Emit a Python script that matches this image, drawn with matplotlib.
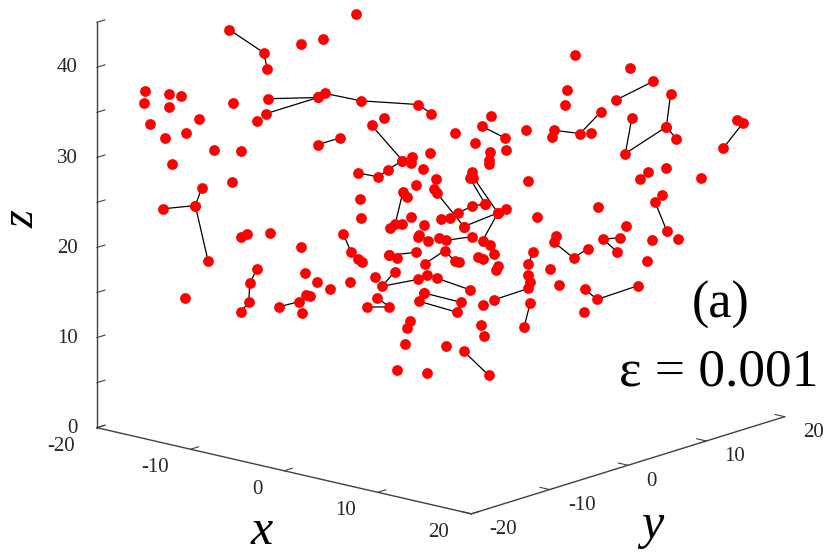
import matplotlib
matplotlib.use("Agg")
import matplotlib.pyplot as plt
from mpl_toolkits.mplot3d import proj3d

plt.rcParams['font.family'] = ['Liberation Serif', 'DejaVu Serif']
plt.rcParams['axes.unicode_minus'] = False

# one view only, so depth along the line of sight can't be read: points sit on x = y
# linked pairs / chains of particles, (x, z)
chains = [
    ([-12.30, -10.30, -10.09], [43.94, 41.33, 39.46]),
    ([-10.05, -7.14], [36.21, 36.26]),
    ([-10.18, -7.14], [34.55, 36.26]),
    ([-6.75, -4.62, -1.32, -0.56], [36.70, 35.81, 35.30, 34.28]),
    ([-4.03, -2.23], [33.09, 29.11]),
    ([-5.84, -7.14], [31.74, 31.04]),
    ([-4.82, -3.64, -3.08, -2.23, -1.65], [27.82, 27.34, 28.11, 29.11, 29.54]),
    ([-13.90, -14.28, -13.54], [26.44, 24.48, 18.35]),
    ([-16.16, -14.28], [24.18, 24.48]),
    ([-10.69, -11.11, -11.17, -11.63], [17.34, 15.80, 13.65, 12.63]),
    ([-9.39, -8.22], [13.11, 13.64]),
    ([-5.68, -5.21], [21.08, 19.01]),
    ([-2.21, -2.65], [25.59, 22.09]),
    ([-0.25, 1.34], [25.50, 21.67]),
    ([0.04, 1.01, 1.83, 2.57], [22.52, 23.23, 23.90, 24.18]),
    ([1.67, 2.57], [27.10, 24.18]),
    ([1.90, 3.32, 3.79], [27.09, 23.13, 23.56]),
    ([1.34, 3.32], [21.67, 23.13]),
    ([3.32, 2.43, 2.86, 3.11], [23.13, 20.07, 19.54, 18.53]),
    ([0.30, 1.83], [20.18, 20.54]),
    ([-1.24, -0.72], [20.83, 20.17]),
    ([-3.04, -1.45], [18.61, 18.90]),
    ([-3.04, -2.56], [18.61, 18.31]),
    ([-0.91, 0.22, 0.80, 1.07], [17.63, 19.03, 17.88, 17.71]),
    ([5.38, 5.10], [18.76, 17.44]),
    ([-2.67, -3.43, -1.33], [16.79, 15.19, 15.89]),
    ([-0.21, 1.67], [15.98, 14.66]),
    ([-3.70, -3.00, -4.28], [13.94, 12.88, 12.92]),
    ([-0.97, 1.19, 0.97, -1.24, -0.97], [14.37, 13.26, 12.16, 13.45, 14.37]),
    ([3.11, 5.10], [13.50, 14.69]),
    ([5.20, 4.84], [13.07, 10.37]),
    ([1.34, 2.80], [7.81, 5.10]),
    ([12.34, 10.21], [37.44, 35.47]),
    ([13.37, 13.12, 10.73, 11.12], [36.07, 32.38, 29.49, 33.47]),
    ([13.12, 13.70], [32.38, 31.02]),
    ([6.60, 8.10, 9.29], [32.20, 31.79, 34.12]),
    ([17.23, 17.56, 16.44], [32.98, 32.64, 29.94]),
    ([12.03, 11.61], [27.37, 26.68]),
    ([12.84, 12.46, 13.14], [24.79, 24.06, 20.85]),
    ([6.60, 7.72, 8.54], [19.75, 17.99, 18.99]),
    ([10.42, 9.45, 10.25], [20.17, 20.01, 18.61]),
    ([8.39, 9.09, 11.45], [14.48, 13.35, 14.79]),
    ([2.41, 3.73], [32.75, 31.44]),
]

# free particles
free_x = [-8.11, -6.86, -4.94, -17.19, -17.28, -15.82, -15.09, -15.79, -12.10, -10.69,
          -16.91, -14.06, -14.82, -16.04, -13.21, -11.60, -15.61, -12.12, -4.71, -4.65,
          -14.86, -11.27, -11.60, -9.93, -8.11, -4.79, -4.56, -7.89, -7.19, -6.44,
          -5.31, -3.84, -7.85, -7.60, -8.05, -3.29, 0.82, 2.93, 4.95, 1.98,
          2.86, 3.77, 2.80, 2.80, -0.63, -1.71, -1.01, -0.27, -1.45, 1.79,
          5.05, -0.37, -1.96, -1.71, 5.61, 0.51, -2.23, -2.94, -0.97, -1.32,
          -0.09, 2.19, 2.45, 3.34, 3.21, -0.81, 5.10, 5.16, 2.43, -1.82,
          -1.94, 2.31, 2.53, -2.09, 0.33, -2.52, -0.81, 7.80, 11.02, 7.36,
          7.20, 6.44, 8.75, 13.12, 15.14, 9.14, 10.79, 6.72, 12.30, 13.80,
          11.97, 6.38, 6.87, 8.33]
free_z = [42.18, 42.73, 45.45, 37.24, 35.99, 36.86, 36.62, 35.42, 35.83, 33.74,
          33.60, 34.04, 32.50, 32.06, 30.64, 30.48, 29.09, 27.01, 24.94, 22.77,
          14.28, 21.25, 20.93, 21.32, 19.70, 18.27, 17.93, 16.85, 15.79, 14.94,
          15.74, 16.20, 14.36, 14.25, 12.33, 33.92, 32.09, 33.95, 32.23, 30.98,
          29.95, 30.11, 29.03, 28.59, 29.92, 28.84, 28.11, 27.05, 26.39, 27.73,
          26.58, 25.94, 25.10, 22.79, 22.57, 22.69, 22.08, 21.61, 21.96, 20.64,
          20.41, 18.23, 18.00, 17.20, 16.80, 16.33, 16.14, 15.36, 12.93, 11.25,
          10.47, 10.67, 9.52, 8.74, 8.48, 5.90, 5.44, 40.47, 38.93, 36.67,
          35.04, 31.43, 31.81, 27.78, 26.68, 23.57, 21.48, 20.42, 19.81, 19.87,
          17.56, 16.81, 15.06, 12.01]

xy_ticks = [-20, -10, 0, 10, 20]
z_ticks = [0, 5, 10, 15, 20, 25, 30, 35, 40, 45]
z_labelled = [0, 10, 20, 30, 40]

fig = plt.figure(figsize=(8.3, 5.54), dpi=100)
ax = fig.add_axes([0.0982, -0.045, 0.843, 1.2635], projection='3d', proj_type='ortho')
ax.computed_zorder = False
ax.view_init(elev=15.49, azim=-49.26)
ax.set_box_aspect((493.7, 479.6, 420.3), zoom=1.12)
ax.set_xlim(-20, 20, view_margin=0)
ax.set_ylim(-20, 20, view_margin=0)
ax.set_zlim(0, 45, view_margin=0)

all_x = list(free_x)
all_z = list(free_z)
for cx, cz in chains:
    all_x += cx
    all_z += cz
    ax.plot(cx, cx, cz, color='black', lw=0.9, zorder=1)
ax.scatter(all_x, all_x, all_z, s=60, color='red', depthshade=False, linewidths=0, zorder=2)

ax.grid(False)
for axis in (ax.xaxis, ax.yaxis, ax.zaxis):
    axis.set_pane_color((1, 1, 1, 0))
    axis.pane.set_edgecolor((1, 1, 1, 0))
    axis.line.set_color('#404040')
    axis.line.set_linewidth(1.0)
    axis._axinfo['tick']['inward_factor'] = 0
    axis._axinfo['tick']['outward_factor'] = 0.32
    axis._axinfo['tick']['color'] = '#404040'
ax.zaxis.set_ticks_position('lower')

ax.set_xticks(xy_ticks)
ax.set_yticks(xy_ticks)
ax.set_zticks(z_ticks)
ax.set_xticklabels([])
ax.set_yticklabels([])
ax.set_zticklabels([])
ax.tick_params(axis='both', color='#404040', width=0.8)


def tick_label(x, y, z, text, ha):
    # tick labels placed just off the axes, they don't sit where mplot3d wants them
    px, py, _ = proj3d.proj_transform(x, y, z, ax.get_proj())
    ax.text2D(px, py, text, transform=ax.transData, fontsize=15, color='#262626',
              ha=ha, va='center', clip_on=False)


for t in xy_ticks:
    tick_label(t, -22.81, -1.3, str(t), 'right')
    tick_label(21.93, t, -1.3, str(t), 'left')
for t in z_labelled:
    tick_label(-22.03, -20, t - 0.55, str(t), 'right')

fig.text(262 / 830, 1 - 544 / 554, 'x', fontsize=36, style='italic', ha='center', va='baseline')
fig.text(652 / 830, 1 - 538 / 554, 'y', fontsize=36, style='italic', ha='center', va='baseline')
fig.text(22 / 830, 1 - 219 / 554, 'z', fontsize=33, style='italic', rotation=90, ha='center', va='center')
fig.text(721 / 830, 1 - 318 / 554, '(a)', fontsize=37.5, ha='center', va='baseline')
fig.text(719 / 830, 1 - 385 / 554, 'ε = 0.001', fontsize=38.5, ha='center', va='baseline')

fig.savefig('out.png', dpi=100)
